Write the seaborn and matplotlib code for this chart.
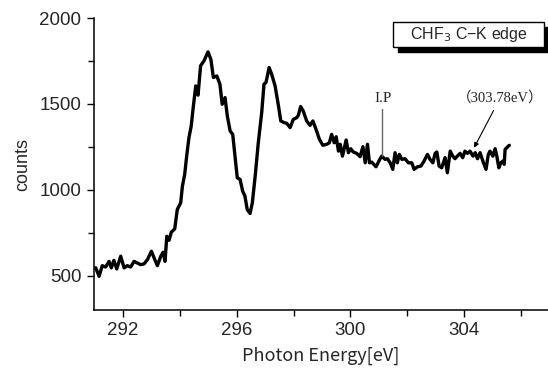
import numpy as np
import pandas as pd
import matplotlib
matplotlib.use("Agg")
import matplotlib.pyplot as plt
from matplotlib.ticker import MultipleLocator
from matplotlib.patches import Rectangle
import seaborn as sns

# photon energy (eV) and counts
energy = [
    291.04, 291.16, 291.27, 291.39, 291.51, 291.59, 291.68, 291.78, 291.92, 292.04,
    292.15, 292.27, 292.39, 292.50, 292.62, 292.74, 292.86, 293.00, 293.12, 293.21,
    293.33, 293.41, 293.48, 293.54, 293.62, 293.70, 293.82, 293.91, 294.03, 294.09,
    294.17, 294.24, 294.32, 294.40, 294.47, 294.56, 294.64, 294.73, 294.85, 294.99,
    295.09, 295.18, 295.30, 295.41, 295.49, 295.59, 295.67, 295.77,
    295.86, 295.94, 296.02, 296.12, 296.21, 296.29, 296.37, 296.47, 296.55, 296.65,
    296.76, 296.88, 296.96, 297.03, 297.14, 297.23, 297.35, 297.47, 297.55, 297.67,
    297.76, 297.88, 297.99, 298.11, 298.17, 298.25, 298.34, 298.46, 298.58, 298.68,
    298.79, 298.91, 299.03, 299.17, 299.26, 299.34, 299.43, 299.50, 299.58, 299.64,
    299.72, 299.78, 299.85, 299.93, 300.01, 300.10, 300.22, 300.34, 300.44, 300.52,
    300.60, 300.67, 300.75, 300.90, 301.02,
    301.10, 301.22, 301.30, 301.40, 301.49, 301.57, 301.65, 301.72, 301.81, 301.92,
    302.04, 302.16, 302.24, 302.36, 302.48, 302.59, 302.71, 302.80, 302.90, 302.98,
    303.04, 303.12, 303.21, 303.33, 303.41, 303.51, 303.60, 303.68, 303.76, 303.86,
    303.95, 304.03, 304.12, 304.21, 304.31, 304.39, 304.47, 304.56, 304.68, 304.77,
    304.85, 304.91, 305.01, 305.09, 305.15, 305.22, 305.29, 305.36, 305.41, 305.44,
    305.50, 305.56, 305.59,
]
counts = [
    546, 496, 558, 550, 583, 545, 589, 539, 613, 545,
    558, 550, 583, 574, 564, 568, 593, 642, 593, 558,
    613, 636, 583, 729, 706, 753, 772, 885, 924, 1021,
    1089, 1196, 1303, 1371, 1479, 1605, 1551, 1722, 1751, 1803,
    1761, 1654, 1663, 1615, 1498, 1537, 1430, 1342,
    1323, 1196, 1070, 1060, 992, 963, 885, 862, 924, 1080,
    1274, 1450, 1615, 1625, 1712, 1673, 1605, 1488, 1401, 1391,
    1387, 1362, 1410, 1420, 1434, 1485, 1459, 1401, 1375, 1401,
    1352, 1294, 1259, 1265, 1274, 1323, 1274, 1309, 1225, 1265,
    1196, 1239, 1290, 1216, 1239, 1220, 1212, 1193, 1251, 1157,
    1265, 1157, 1161, 1134, 1173,
    1196, 1177, 1181, 1157, 1119, 1216, 1157, 1206, 1177, 1181,
    1157, 1157, 1119, 1134, 1138, 1167, 1206, 1177, 1157, 1212,
    1220, 1138, 1128, 1187, 1099, 1225, 1196, 1181, 1196, 1212,
    1187, 1225, 1212, 1225, 1196, 1216, 1181, 1216, 1157, 1119,
    1206, 1225, 1196, 1239, 1196, 1128, 1157, 1167, 1148, 1235,
    1245, 1255, 1259,
]

ip_energy = 301.10
edge_energy = 303.78
legend_text = "CHF$_3$ C\u2212K edge"

df = pd.DataFrame({"energy": energy, "counts": counts})

sns.set_theme(style="ticks")
plt.rcParams['font.family'] = ['Liberation Sans', 'DejaVu Sans']

fig = plt.figure(figsize=(5.48, 3.69), dpi=100)
ax = fig.add_axes([0.1715, 0.160, 0.8285, 0.791])

sns.lineplot(data=df, x="energy", y="counts", color="black", linewidth=2.4,
             ax=ax, sort=False)

ax.set_xlim(290.98, 306.95)
ax.set_ylim(300, 2000)
ax.xaxis.set_major_locator(MultipleLocator(4))
ax.xaxis.set_minor_locator(MultipleLocator(2))
ax.yaxis.set_major_locator(MultipleLocator(500))
ax.yaxis.set_minor_locator(MultipleLocator(250))
ax.tick_params(which="major", length=5, width=1, labelsize=13.5, pad=4, color="black")
ax.tick_params(which="minor", length=4, width=1, color="black")
for lab in ax.get_xticklabels() + ax.get_yticklabels():
    lab.set_family(['Liberation Sans'])
sns.despine(ax=ax)
for s in ["left", "bottom"]:
    ax.spines[s].set_color("black")
    ax.spines[s].set_linewidth(1.1)

ax.set_xlabel("Photon Energy[eV]", fontsize=13, family=['Noto Sans CJK JP'], labelpad=5)
ax.set_ylabel("counts", fontsize=13, labelpad=6)

# I.P marker
ax.plot([ip_energy, ip_energy], [1195, 1469], color="#666666", linewidth=1)
ax.text(ip_energy + 0.05, 1495, "I.P", ha="center", va="bottom", fontsize=11,
        family=['Liberation Serif'])

# edge energy annotation
ax.annotate(f"\uff08{edge_energy}eV\uff09", xy=(304.35, 1245), xytext=(305.27, 1495),
            ha="center", va="bottom", fontsize=10.5,
            family=['Liberation Serif', 'Noto Sans CJK JP'],
            arrowprops=dict(arrowstyle="-|>", color="black", lw=0.8,
                            mutation_scale=7, shrinkA=2, shrinkB=0))

# framed label with drop shadow
bx0, by0, bw, bh = 393 / 548, 1 - 47 / 369, 151 / 548, 25 / 369
fig.patches.append(Rectangle((bx0 + 5 / 548, by0 - 5 / 369), bw, bh,
                             transform=fig.transFigure, facecolor="black",
                             edgecolor="black", zorder=5))
fig.patches.append(Rectangle((bx0, by0), bw, bh, transform=fig.transFigure,
                             facecolor="white", edgecolor="black", lw=1, zorder=6))
fig.text(bx0 + bw / 2, by0 + bh / 2, legend_text, ha="center", va="center",
         fontsize=11.5, zorder=7, family=['Liberation Sans', 'DejaVu Sans'])

fig.savefig("out.png", dpi=100)
